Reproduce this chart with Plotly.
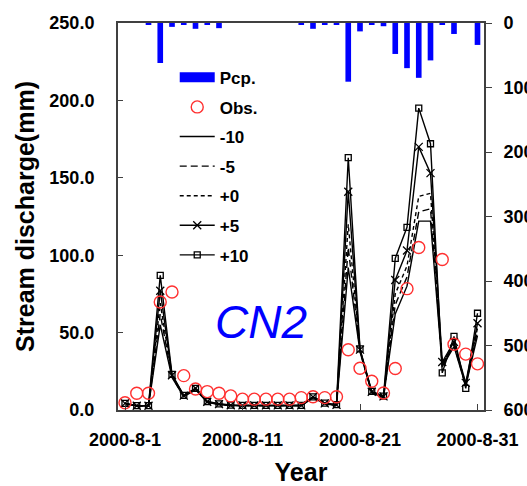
import plotly.graph_objects as go

dates = [f"2000-08-{d:02d}" for d in range(1, 32)]

pcp = [0, 0, 3, 62, 6, 2, 9, 2, 8, 0, 0, 0, 0, 0, 0, 2, 9, 2, 2, 91,
       13, 2, 5, 48, 70, 85, 58, 2, 17, 0, 34]

obs = [4.7, 10.8, 10.8, 69.8, 76.2, 22.2, 13.6, 11.9, 10.8, 9.1, 7.0, 7.0, 7.0, 7.0, 7.0,
       8.0, 8.6, 8.0, 8.6, 38.9, 27.0, 18.6, 11.0, 26.8, 78.4, 105.0, None, 97.2, 42.5, 36.1, 29.8]

sim_m10 = [4.0, 2.5, 2.5, 55, 21.0, 8.5, 13.2, 5.0, 3.5, 2.8, 2.7, 2.7, 2.7, 2.7, 2.7,
           2.7, 8.0, 4.0, 3.0, 92, 37.5, 11.0, 8.0, 62, 80, 122, 122, 28, 41, 15.5, 48]
sim_m5 = [4.1, 2.6, 2.6, 62, 21.5, 8.8, 13.5, 5.1, 3.6, 2.9, 2.8, 2.8, 2.8, 2.8, 2.8,
          2.8, 8.2, 4.1, 3.1, 105, 38.0, 11.2, 8.3, 68, 86, 128, 130, 29, 42, 16.0, 51]
sim_p0 = [4.2, 2.7, 2.7, 69, 22.0, 9.0, 13.8, 5.2, 3.7, 3.0, 2.9, 2.9, 2.9, 2.9, 2.9,
          2.9, 8.3, 4.2, 3.2, 120, 38.5, 11.5, 8.5, 75, 93, 138, 140, 30, 43, 16.5, 53]
sim_p5 = [4.3, 2.8, 2.8, 77, 22.5, 9.3, 14.0, 5.3, 3.8, 3.1, 3.0, 3.0, 3.0, 3.0, 3.0,
          3.0, 8.5, 4.3, 3.3, 141, 39.0, 11.8, 8.8, 84, 103, 170, 153, 31, 44, 17.5, 56]
sim_p10 = [4.3, 2.8, 2.8, 87, 23.0, 9.5, 14.0, 5.5, 4.0, 3.2, 3.0, 3.0, 3.0, 3.0, 3.0,
           3.0, 8.5, 4.5, 3.5, 163, 39.5, 12.0, 9.0, 98, 118, 195, 172, 24, 47.5, 14.0, 62.5]

tick_dates = ["2000-08-01", "2000-08-11", "2000-08-21", "2000-08-31"]
tick_text = ["2000-8-1", "2000-8-11", "2000-8-21", "2000-8-31"]
left_ticks = [0, 50, 100, 150, 200, 250]
right_ticks = [0, 100, 200, 300, 400, 500, 600]

FONT = "Arial, Liberation Sans, sans-serif"
fig = go.Figure()

# precipitation bars (right reversed axis)
fig.add_trace(go.Bar(x=dates, y=pcp, yaxis="y2", marker=dict(color="#0000ff", line=dict(width=0)),
                     width=0.48 * 86400000, showlegend=False, name="Pcp."))
# legend proxy for bars
fig.add_trace(go.Scatter(x=[None], y=[None], mode="lines", name="Pcp.",
                         line=dict(color="#0000ff", width=10), legendgroup="a", legendrank=1))

line_specs = [
    ("-10", sim_m10, "solid", None, 3),
    ("-5", sim_m5, "7px,4px", None, 4),
    ("+0", sim_p0, "4px,3px", None, 5),
    ("+5", sim_p5, "solid", "x-thin", 6),
    ("+10", sim_p10, "solid", "square-open", 7),
]
for name, vals, dash, sym, rank in line_specs:
    if sym is None:
        fig.add_trace(go.Scatter(x=dates, y=vals, mode="lines", name=name,
                                 line=dict(color="black", width=1.4, dash=dash),
                                 legendgroup=name, legendrank=rank))
    else:
        fig.add_trace(go.Scatter(x=dates, y=vals, mode="lines+markers", name=name,
                                 line=dict(color="black", width=1.4, dash=dash),
                                 marker=dict(symbol=sym, size=8 if sym == "x-thin" else 6,
                                             color="black",
                                             line=dict(color="black", width=1.3)),
                                 legendgroup=name, legendrank=rank))

fig.add_trace(go.Scatter(x=dates, y=obs, mode="markers", name="Obs.",
                         marker=dict(symbol="circle-open", size=12,
                                     line=dict(color="#ff3030", width=1.4), color="#ff3030"),
                         legendgroup="b", legendrank=2))

fig.add_annotation(x=0.39, y=0.227, xref="paper", yref="paper", text="CN2", showarrow=False,
                   font=dict(family=FONT, size=46, color="#0000ff", style="italic"),
                   xanchor="center", yanchor="middle")

fig.update_layout(
    width=527, height=486,
    margin=dict(l=118, r=43, t=23, b=76, autoexpand=False),
    paper_bgcolor="white", plot_bgcolor="white",
    font=dict(family=FONT, color="black"),
    barmode="overlay",
    legend=dict(x=0.155, y=0.905, xanchor="left", yanchor="top",
                bgcolor="rgba(0,0,0,0)", traceorder="grouped", tracegroupgap=4.5,
                font=dict(family=FONT, size=17, color="black", weight="bold"),
                itemwidth=35),
    xaxis=dict(type="date", range=["2000-07-31 09:42", "2000-08-31 13:16"],
               tickvals=tick_dates, ticktext=tick_text, automargin=False,
               ticks="inside", ticklen=6, tickcolor="#404040", tickwidth=1,
               showline=True, linecolor="#404040", linewidth=2, mirror=True,
               showgrid=False, zeroline=False,
               tickfont=dict(family=FONT, size=18, color="black", weight="bold"),
               ticklabelstandoff=12,
               title=dict(text="Year", font=dict(family=FONT, size=25, color="black", weight="bold"),
                          standoff=18)),
    yaxis=dict(range=[0, 250], tickvals=left_ticks, tickformat=".1f", automargin=False,
               ticks="inside", ticklen=5, tickcolor="#404040",
               showline=True, linecolor="#404040", linewidth=2,
               showgrid=False, zeroline=False,
               tickfont=dict(family=FONT, size=18, color="black", weight="bold"),
               ticklabelstandoff=18,
               title=dict(text="Stream discharge(mm)",
                          font=dict(family=FONT, size=25, color="black", weight="bold"),
                          standoff=8)),
    yaxis2=dict(range=[600, 0], tickvals=right_ticks, overlaying="y", side="right",
                automargin=False,
                ticks="outside", ticklen=6, tickcolor="#404040",
                showline=True, linecolor="#404040", linewidth=2,
                showgrid=False, zeroline=False,
                tickfont=dict(family=FONT, size=18, color="black", weight="bold"),
                ticklabelstandoff=8),
)

fig.write_html("out.html")
